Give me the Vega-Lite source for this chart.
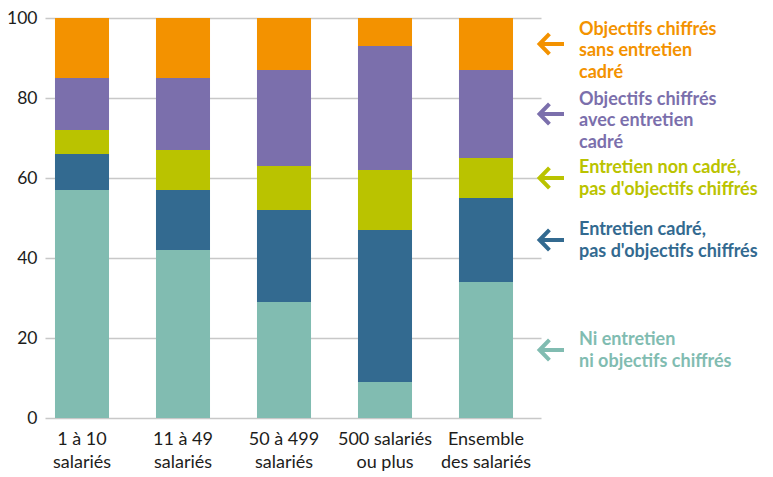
{
  "$schema": "https://vega.github.io/schema/vega-lite/v6.json",
  "autosize": {"type": "none"},
  "padding": {"left": 45, "top": 18, "right": 232, "bottom": 59},
  "width": 496,
  "height": 400,
  "background": "white",
  "config": {"view": {"stroke": null}, "font": "Lato"},
  "data": {"values": [
    {"cat": "1 à 10\nsalariés", "serie": "Ni entretien\nni objectifs chiffrés", "v": 57},
    {"cat": "1 à 10\nsalariés", "serie": "Entretien cadré,\npas d'objectifs chiffrés", "v": 9},
    {"cat": "1 à 10\nsalariés", "serie": "Entretien non cadré,\npas d'objectifs chiffrés", "v": 6},
    {"cat": "1 à 10\nsalariés", "serie": "Objectifs chiffrés\navec entretien\ncadré", "v": 13},
    {"cat": "1 à 10\nsalariés", "serie": "Objectifs chiffrés\nsans entretien\ncadré", "v": 15},
    {"cat": "11 à 49\nsalariés", "serie": "Ni entretien\nni objectifs chiffrés", "v": 42},
    {"cat": "11 à 49\nsalariés", "serie": "Entretien cadré,\npas d'objectifs chiffrés", "v": 15},
    {"cat": "11 à 49\nsalariés", "serie": "Entretien non cadré,\npas d'objectifs chiffrés", "v": 10},
    {"cat": "11 à 49\nsalariés", "serie": "Objectifs chiffrés\navec entretien\ncadré", "v": 18},
    {"cat": "11 à 49\nsalariés", "serie": "Objectifs chiffrés\nsans entretien\ncadré", "v": 15},
    {"cat": "50 à 499\nsalariés", "serie": "Ni entretien\nni objectifs chiffrés", "v": 29},
    {"cat": "50 à 499\nsalariés", "serie": "Entretien cadré,\npas d'objectifs chiffrés", "v": 23},
    {"cat": "50 à 499\nsalariés", "serie": "Entretien non cadré,\npas d'objectifs chiffrés", "v": 11},
    {"cat": "50 à 499\nsalariés", "serie": "Objectifs chiffrés\navec entretien\ncadré", "v": 24},
    {"cat": "50 à 499\nsalariés", "serie": "Objectifs chiffrés\nsans entretien\ncadré", "v": 13},
    {"cat": "500 salariés\nou plus", "serie": "Ni entretien\nni objectifs chiffrés", "v": 9},
    {"cat": "500 salariés\nou plus", "serie": "Entretien cadré,\npas d'objectifs chiffrés", "v": 38},
    {"cat": "500 salariés\nou plus", "serie": "Entretien non cadré,\npas d'objectifs chiffrés", "v": 15},
    {"cat": "500 salariés\nou plus", "serie": "Objectifs chiffrés\navec entretien\ncadré", "v": 31},
    {"cat": "500 salariés\nou plus", "serie": "Objectifs chiffrés\nsans entretien\ncadré", "v": 7},
    {"cat": "Ensemble\ndes salariés", "serie": "Ni entretien\nni objectifs chiffrés", "v": 34},
    {"cat": "Ensemble\ndes salariés", "serie": "Entretien cadré,\npas d'objectifs chiffrés", "v": 21},
    {"cat": "Ensemble\ndes salariés", "serie": "Entretien non cadré,\npas d'objectifs chiffrés", "v": 10},
    {"cat": "Ensemble\ndes salariés", "serie": "Objectifs chiffrés\navec entretien\ncadré", "v": 22},
    {"cat": "Ensemble\ndes salariés", "serie": "Objectifs chiffrés\nsans entretien\ncadré", "v": 13}
  ]},
  "transform": [
    {"calculate": "indexof(['Ni entretien\\nni objectifs chiffrés', 'Entretien cadré,\\npas d\\'objectifs chiffrés', 'Entretien non cadré,\\npas d\\'objectifs chiffrés', 'Objectifs chiffrés\\navec entretien\\ncadré', 'Objectifs chiffrés\\nsans entretien\\ncadré'], datum.serie)", "as": "ord"},
    {"stack": "v", "groupby": ["cat"], "sort": [{"field": "ord", "order": "ascending"}], "as": ["y0", "y1"]},
    {"calculate": "(datum.y0 + datum.y1) / 2", "as": "mid"},
    {"calculate": "split(datum.serie, '\\n')", "as": "lines"}
  ],
  "encoding": {
    "x": {
      "field": "cat", "type": "nominal", "sort": null, "title": null,
      "scale": {"paddingInner": 0.465, "paddingOuter": 0.188, "align": 0.263},
      "axis": {
        "domain": false, "ticks": false, "labelAngle": 0,
        "labelExpr": "split(datum.label, '\\n')",
        "labelFontSize": 18, "labelColor": "#1d1d1b", "labelPadding": 12,
        "labelLineHeight": 23, "labelBaseline": "top"
      }
    },
    "color": {
      "field": "serie", "type": "nominal", "legend": null,
      "scale": {
        "domain": ["Ni entretien\nni objectifs chiffrés", "Entretien cadré,\npas d'objectifs chiffrés", "Entretien non cadré,\npas d'objectifs chiffrés", "Objectifs chiffrés\navec entretien\ncadré", "Objectifs chiffrés\nsans entretien\ncadré"],
        "range": ["#81bcb1", "#336a90", "#bac300", "#7b6fac", "#f39200"]
      }
    }
  },
  "layer": [
    {
      "mark": {"type": "bar"},
      "encoding": {
        "y": {
          "field": "y0", "type": "quantitative", "title": null,
          "scale": {"domain": [0, 100], "nice": false},
          "axis": {
            "values": [0, 20, 40, 60, 80, 100], "domain": false, "ticks": false,
            "grid": true, "gridColor": "#c8c8c8", "gridWidth": 1.5,
            "labelFontSize": 17.5, "labelColor": "#1d1d1b", "labelPadding": 8
          }
        },
        "y2": {"field": "y1"}
      }
    },
    {
      "transform": [{"filter": "indexof(datum.cat, 'Ensemble') === 0"}],
      "mark": {
        "type": "point", "filled": false, "strokeWidth": 4, "opacity": 1,
        "shape": "M1,0L-0.85,0M-0.12,-0.78L-0.88,0L-0.12,0.78",
        "size": 676, "xOffset": 65, "strokeCap": "butt", "strokeJoin": "miter"
      },
      "encoding": {
        "y": {"field": "mid", "type": "quantitative"},
        "stroke": {"field": "serie", "type": "nominal", "legend": null,
          "scale": {
            "domain": ["Ni entretien\nni objectifs chiffrés", "Entretien cadré,\npas d'objectifs chiffrés", "Entretien non cadré,\npas d'objectifs chiffrés", "Objectifs chiffrés\navec entretien\ncadré", "Objectifs chiffrés\nsans entretien\ncadré"],
            "range": ["#81bcb1", "#336a90", "#bac300", "#7b6fac", "#f39200"]
          }}
      }
    },
    {
      "transform": [{"filter": "indexof(datum.cat, 'Ensemble') === 0"}],
      "mark": {
        "type": "text", "align": "left", "baseline": "middle", "dx": 93,
        "dy": {"expr": "1 - (length(datum.lines) - 1) * 10.75 + (length(datum.lines) - 2) * 6"},
        "fontSize": 18, "fontWeight": "bold", "lineHeight": 21.5
      },
      "encoding": {
        "y": {"field": "mid", "type": "quantitative"},
        "text": {"field": "lines"}
      }
    }
  ]
}
